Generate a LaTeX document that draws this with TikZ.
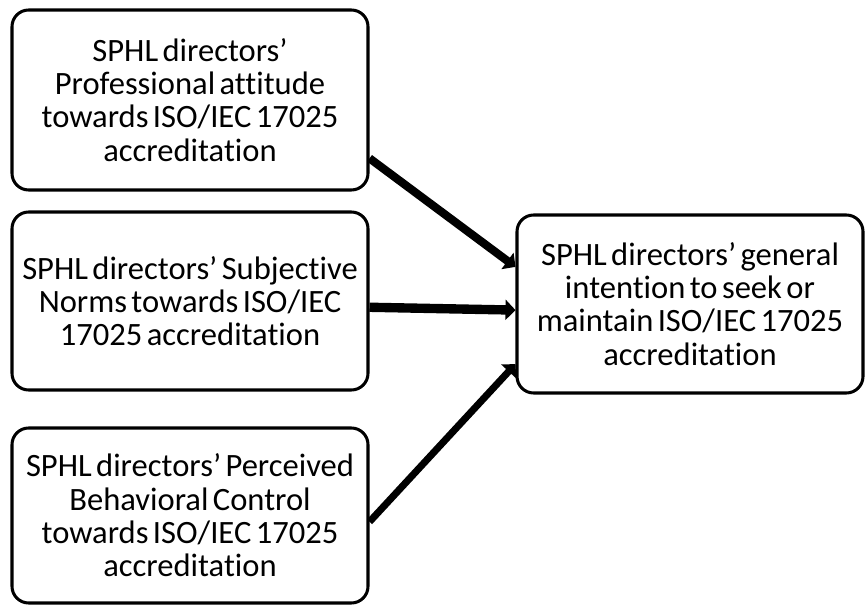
\documentclass[tikz,border=0pt]{standalone}
\usepackage{fontspec}
\setmainfont[Ligatures=NoCommon, WordSpace=0.6]{Carlito}
\usetikzlibrary{arrows.meta}
\tikzset{
  factor/.style={draw=black, line width=2.6pt, fill=white,
                 rounded corners=0.5cm, minimum width=10.68cm,
                 minimum height=5.4cm, text width=10.55cm,
                 inner sep=0.05cm, align=flush center,
                 font=\fontsize{27.8}{28.4}\selectfont},
  intention/.style={factor, minimum width=10.38cm, text width=10.25cm},
  link/.style={-{Triangle[length=0.3cm,width=0.6cm]}, line width=7pt},
}

\begin{document}
\begin{tikzpicture}[x=1cm,y=1cm]
  \path[use as bounding box] (0,0) rectangle (25.98,18.15);

  % the three antecedents
  \node[factor] (ATT) at (5.7,15.15)
    {SPHL directors’\\Professional attitude\\towards ISO/IEC 17025\\accreditation};
  \node[factor, minimum height=5.34cm] (NORM) at (5.7,9.12)
    {SPHL directors’ Subjective\\Norms towards ISO/IEC\\17025 accreditation};
  \node[factor, minimum height=5.25cm] (PBC) at (5.7,2.685)
    {SPHL directors’ Perceived\\Behavioral Control\\towards ISO/IEC 17025\\accreditation};

  % the outcome
  \node[intention, minimum height=5.34cm] (INT) at (20.7,9.03)
    {SPHL directors’ general\\intention to seek or\\maintain ISO/IEC 17025\\accreditation};

  \draw[link] (ATT.-18) -- (INT.168);
  \draw[link, line width=8pt] (NORM.-2) -- (INT.182);
  \draw[link, line width=6pt] (PBC.-2) -- (INT.199);
\end{tikzpicture}
\end{document}
